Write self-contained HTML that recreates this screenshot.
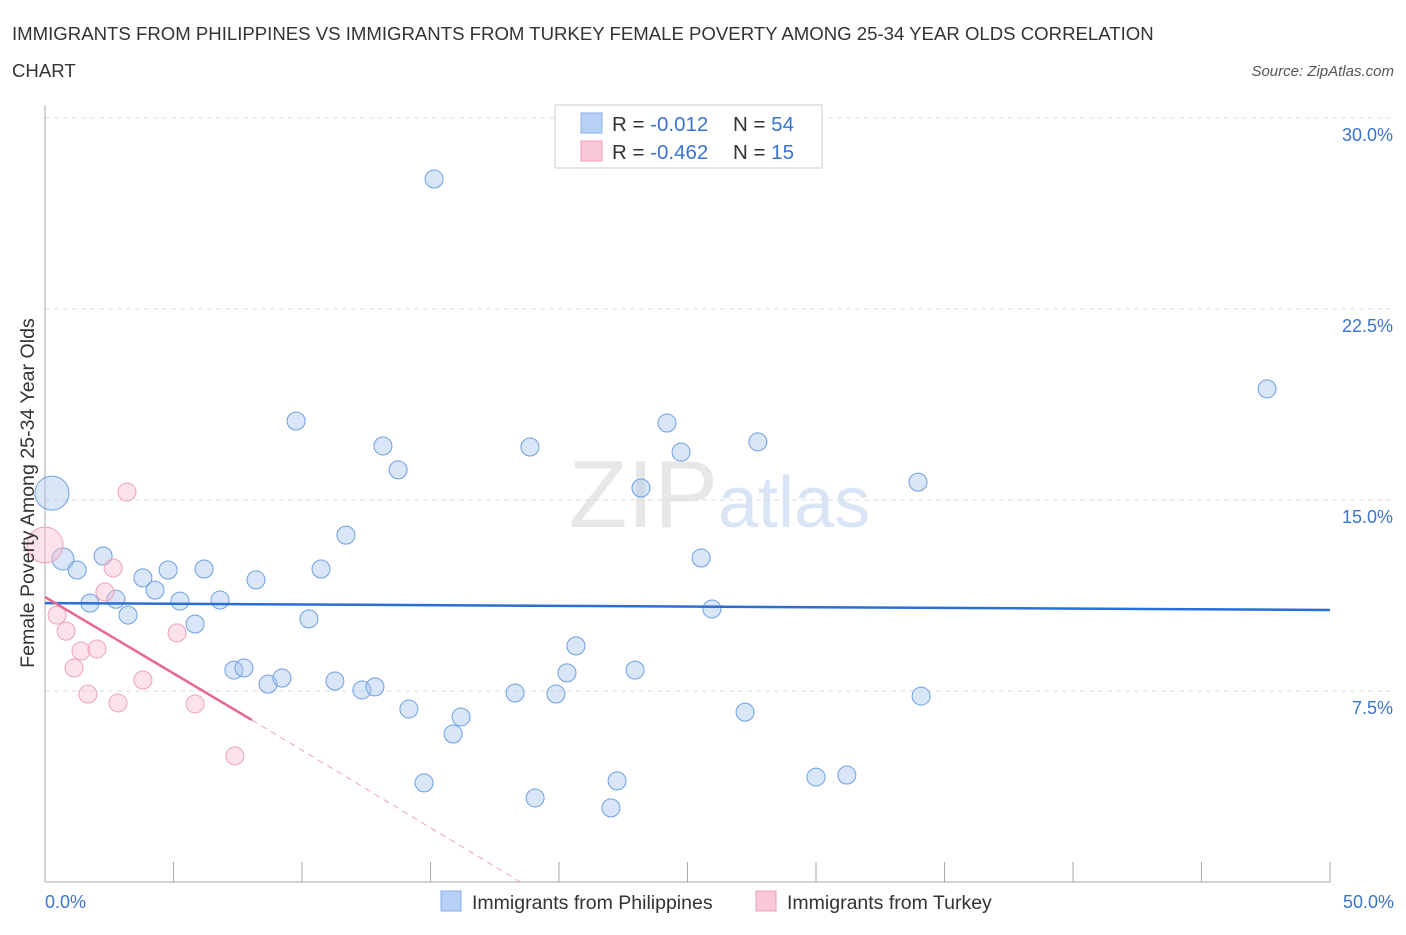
<!DOCTYPE html>
<html><head><meta charset="utf-8"><style>
body{margin:0;background:#fff;font-family:"Liberation Sans",sans-serif}
svg text{font-family:"Liberation Sans",sans-serif}
</style></head><body>
<svg id="chart" width="1406" height="930" xmlns="http://www.w3.org/2000/svg">
<text x="12" y="40" font-size="18.6" fill="#333">IMMIGRANTS FROM PHILIPPINES VS IMMIGRANTS FROM TURKEY FEMALE POVERTY AMONG 25-34 YEAR OLDS CORRELATION</text>
<text x="12" y="77" font-size="18.6" fill="#333">CHART</text>
<text x="1394" y="76" font-size="15" fill="#555" text-anchor="end" font-style="italic">Source: ZipAtlas.com</text>
<text x="718" y="527" font-size="96" text-anchor="end" fill="#ddd" font-family="Liberation Serif" opacity="0.7">ZIP</text>
<text x="718" y="527" font-size="72" fill="#c9daf2" opacity="0.7">atlas</text>
<g id="grid"></g>
<g id="axes"></g>
<g id="marks"></g>
<text transform="translate(34,493) rotate(-90)" font-size="19.6" fill="#333" text-anchor="middle">Female Poverty Among 25-34 Year Olds</text>
<g>
<rect x="555" y="105" width="267" height="63" fill="#fff" stroke="#ccc"/>
<rect x="581" y="113" width="21" height="20" fill="#b8d1f5" stroke="#8ab0e8"/>
<rect x="581" y="141" width="21" height="20" fill="#f9c8d6" stroke="#ee9fb8"/>
<text x="612" y="131" font-size="20.5" fill="#333">R = <tspan fill="#3a74d0"> -0.012</tspan></text>
<text x="733" y="131" font-size="20.5" fill="#333">N = <tspan fill="#3a74d0">54</tspan></text>
<text x="612" y="159" font-size="20.5" fill="#333">R = <tspan fill="#3a74d0">-0.462</tspan></text>
<text x="733" y="159" font-size="20.5" fill="#333">N = <tspan fill="#3a74d0"> 15</tspan></text>
</g>
<g>
<rect x="441" y="891" width="20" height="20" fill="#b8d1f5" stroke="#8ab0e8"/>
<text x="472" y="909" font-size="19.5" fill="#333">Immigrants from Philippines</text>
<rect x="756" y="891" width="20" height="20" fill="#f9c8d6" stroke="#ee9fb8"/>
<text x="787" y="909" font-size="19.5" fill="#333">Immigrants from Turkey</text>
</g>
</svg>
<script>
const yTicks=[7.5,15,22.5,30];
const yTickLabels=["7.5%","15.0%","22.5%","30.0%"];
const xTicks=[0,5,10,15,20,25,30,35,40,45,50];
const phX=[0.27,0.7,1.25,1.75,2.26,2.76,3.23,3.81,4.28,4.79,5.25,5.84,6.19,6.81,7.35,7.74,8.21,8.68,9.22,9.77,10.27,10.74,11.28,11.71,12.33,12.84,13.15,13.74,14.16,14.75,15.14,15.88,16.19,18.29,18.87,19.07,19.88,20.31,20.66,22.02,22.26,23.19,22.96,24.2,24.75,25.53,25.95,27.24,27.74,30.0,31.2,33.97,34.09,47.55];
const phY=[15.27,12.68,12.25,10.95,12.8,11.1,10.48,11.94,11.46,12.25,11.03,10.13,12.29,11.07,8.32,8.4,11.86,7.77,8.01,18.1,10.33,12.29,7.89,13.62,7.54,7.66,17.12,16.18,6.79,3.89,27.6,5.81,6.48,7.42,17.08,3.3,7.38,8.21,9.27,2.91,3.97,15.47,8.32,18.02,16.88,12.72,10.72,6.67,17.28,4.12,4.2,15.7,7.3,19.36];
const phR=[17,11,9,9,9,9,9,9,9,9,9,9,9,9,9,9,9,9,9,9,9,9,9,9,9,9,9,9,9,9,9,9,9,9,9,9,9,9,9,9,9,9,9,9,9,9,9,9,9,9,9,9,9,9];
const tkX=[0,0.47,0.82,1.13,1.4,1.67,2.02,2.33,2.65,2.84,3.19,3.81,5.14,5.84,7.39];
const tkY=[13.23,10.48,9.85,8.4,9.07,7.38,9.15,11.39,12.33,7.03,15.31,7.93,9.78,6.99,4.95];
const tkR=[18,9,9,9,9,9,9,9,9,9,9,9,9,9,9];
const phTrend=[[0,10.95],[50,10.68]];
const tkTrend=[[0,11.19],[8.05,6.36],[18.5,0]];
const NS="http://www.w3.org/2000/svg";
const X=v=>45+v*25.7, Y=v=>882-v*25.47;
function mk(t,a,p){const e=document.createElementNS(NS,t);for(const k in a)e.setAttribute(k,a[k]);p.appendChild(e);return e;}
const grid=document.getElementById('grid'),axes=document.getElementById('axes'),marks=document.getElementById('marks');
yTicks.forEach((v,i)=>{
 const l=mk('line',{x1:45,x2:1394,y1:Y(v),y2:Y(v),stroke:'#ddd','stroke-dasharray':'5,4'},grid);
 
 
 const t=mk('text',{x:1393,y:Y(v)+23,'font-size':18,fill:'#3a74d0','text-anchor':'end'},grid);
 t.textContent=yTickLabels[i];
 
 
});
const ax=mk('line',{x1:45,x2:45,y1:105,y2:882,stroke:'#aaa'},axes);


const bx=mk('line',{x1:45,x2:1330,y1:882,y2:882,stroke:'#aaa'},axes);


xTicks.forEach(v=>{
 const l=mk('line',{x1:X(v),x2:X(v),y1:862,y2:882,stroke:'#aaa'},axes);
 
 
});
[[0,'0.0%','start',45],[50,'50.0%','end',1394]].forEach(a=>{
 const t=mk('text',{x:a[3],y:908,'font-size':18,fill:'#3a74d0','text-anchor':a[2]},axes);
 t.textContent=a[1];
 
 
});
phX.forEach((v,i)=>{
 const c=mk('circle',{cx:X(v),cy:Y(phY[i]),r:phR[i],fill:'rgba(170,200,240,0.45)',stroke:'#6d9fe0','stroke-width':1},marks);
 
 
});
tkX.forEach((v,i)=>{
 const c=mk('circle',{cx:X(v),cy:Y(tkY[i]),r:tkR[i],fill:'rgba(248,190,208,0.45)',stroke:'#eda3bb','stroke-width':1},marks);
 
 
});
const pl=mk('line',{x1:X(phTrend[0][0]),y1:Y(phTrend[0][1]),x2:X(phTrend[1][0]),y2:Y(phTrend[1][1]),stroke:'#2a6fd6','stroke-width':2.5},marks);


const tl=mk('line',{x1:X(tkTrend[0][0]),y1:Y(tkTrend[0][1]),x2:X(tkTrend[1][0]),y2:Y(tkTrend[1][1]),stroke:'#e46a94','stroke-width':2.5},marks);


const td=mk('line',{x1:X(tkTrend[1][0]),y1:Y(tkTrend[1][1]),x2:X(tkTrend[2][0]),y2:Y(tkTrend[2][1]),stroke:'#eda3bb','stroke-width':1,'stroke-dasharray':'6,5'},marks);


</script>
</body></html>
